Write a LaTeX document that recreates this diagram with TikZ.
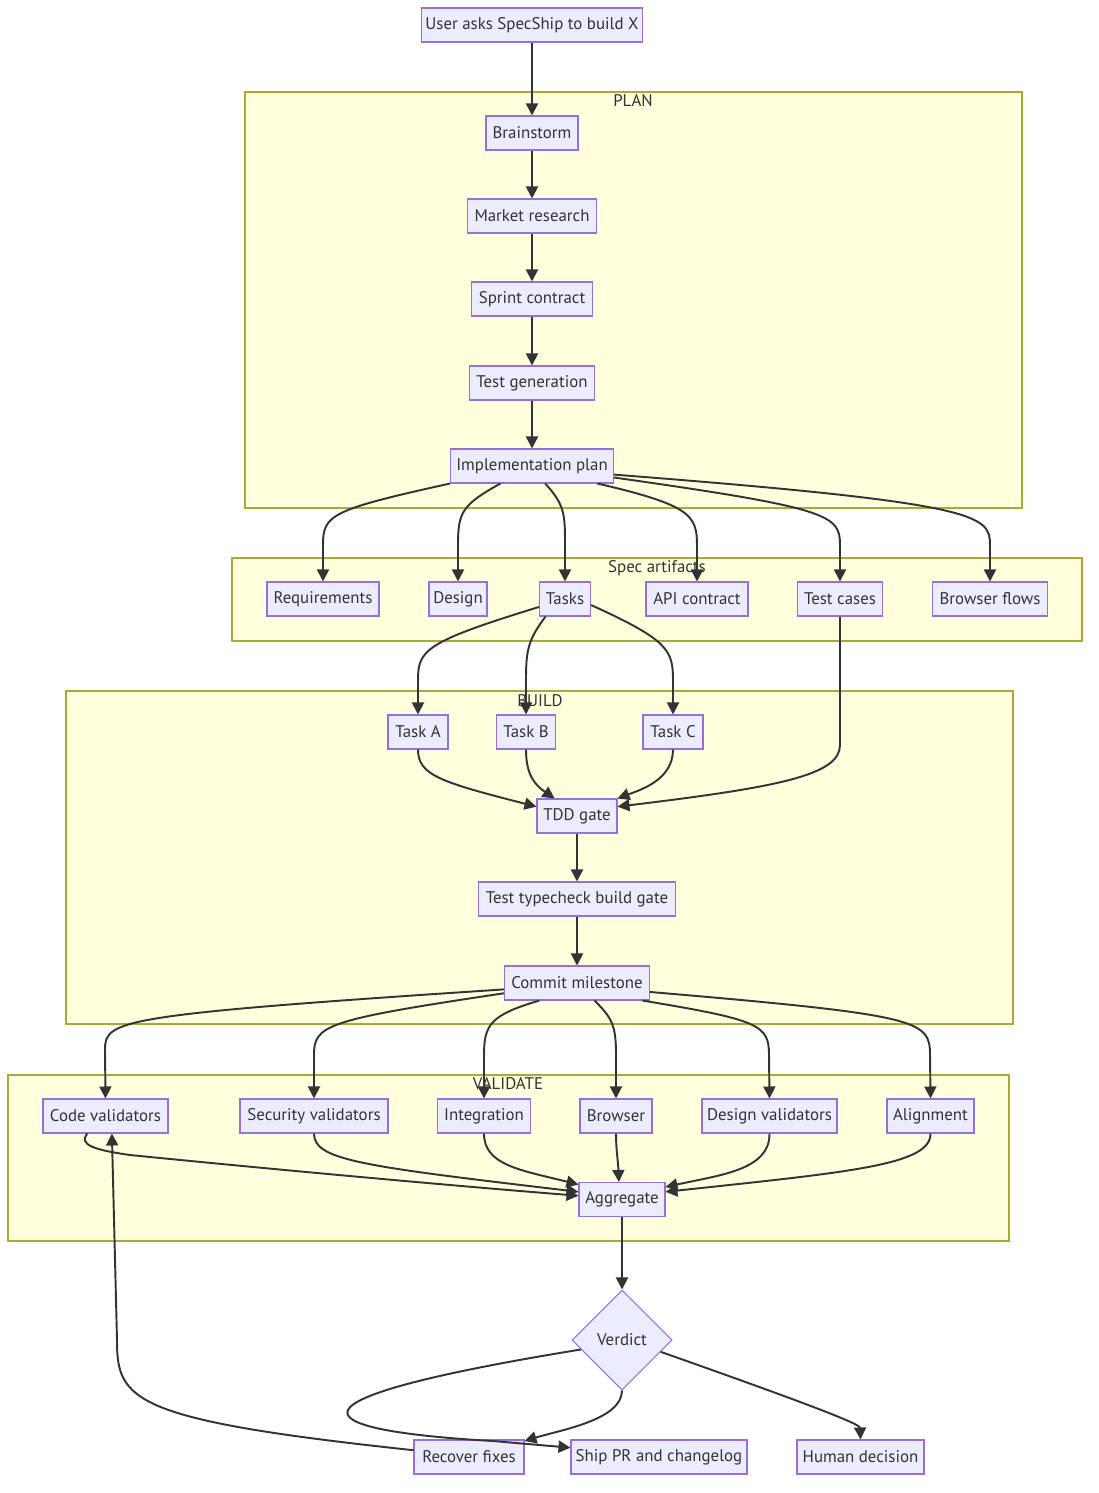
\documentclass[tikz,border=0pt]{standalone}
\usepackage{fontspec}
\setmainfont{PT Sans}
\usepackage{xcolor}
\usetikzlibrary{arrows.meta,shapes.geometric}
\definecolor{nodefill}{HTML}{ECECFF}
\definecolor{nodeline}{HTML}{9370DB}
\definecolor{groupfill}{HTML}{FFFFDE}
\definecolor{groupline}{HTML}{AAAA33}
\definecolor{ink}{HTML}{333333}

\begin{document}
\begin{tikzpicture}[
  x=0.02cm, y=-0.02cm,
  font=\fontsize{9.6}{11}\selectfont, text=ink,
  box/.style={draw=nodeline, fill=nodefill, line width=0.6pt, minimum height=0.68cm, inner sep=0pt},
  decision/.style={diamond, draw=nodeline, fill=nodefill, line width=0.6pt, minimum width=2cm, minimum height=2cm, inner sep=0pt},
  cluster/.style={draw=groupline, fill=groupfill, line width=0.6pt},
  grouplabel/.style={inner sep=0pt},
  arrow/.style={-{Triangle[length=2.4mm,width=2.4mm]}, draw=ink, line width=1.1pt}
]
\useasboundingbox (0,0) rectangle (1098,1493);

% groups
\draw[cluster] (245,92) rectangle (1022,508);
\draw[cluster] (232,558) rectangle (1082,641);
\draw[cluster] (66,691) rectangle (1013,1024);
\draw[cluster] (8,1075) rectangle (1009,1241);
\node[grouplabel] (planlbl) at (633,101) {PLAN};
\node[grouplabel] (speclbl) at (657,568) {Spec artifacts};
\node[grouplabel] (buildlbl) at (540,701) {BUILD};
\node[grouplabel] (validlbl) at (508,1084) {VALIDATE};

% plan
\node[box, minimum width=4.42cm] (user) at (532,25) {User asks SpecShip to build X};
\node[box, minimum width=1.84cm] (brainstorm) at (532,133) {Brainstorm};
\node[box, minimum width=2.58cm] (market) at (532,216) {Market research};
\node[box, minimum width=2.42cm] (sprint) at (532,299) {Sprint contract};
\node[box, minimum width=2.50cm] (testgen) at (532,383) {Test generation};
\node[box, minimum width=3.26cm] (impl) at (532,466) {Implementation plan};

% spec artifacts
\node[box, minimum width=2.24cm] (req) at (323,599) {Requirements};
\node[box, minimum width=1.16cm] (design) at (458,599) {Design};
\node[box, minimum width=1.02cm] (tasks) at (565,599) {Tasks};
\node[box, minimum width=2.04cm] (api) at (697,599) {API contract};
\node[box, minimum width=1.70cm] (tcase) at (840,599) {Test cases};
\node[box, minimum width=2.30cm] (bflows) at (990,599) {Browser flows};

% build
\node[box, minimum width=1.20cm] (taska) at (418,732) {Task A};
\node[box, minimum width=1.18cm] (taskb) at (526,732) {Task B};
\node[box, minimum width=1.20cm] (taskc) at (673,732) {Task C};
\node[box, minimum width=1.60cm] (tdd) at (577,816) {TDD gate};
\node[box, minimum width=3.94cm] (typecheck) at (577,899) {Test typecheck build gate};
\node[box, minimum width=2.90cm] (commit) at (577,983) {Commit milestone};

% validate
\node[box, minimum width=2.50cm] (code) at (105.5,1116) {Code validators};
\node[box, minimum width=2.96cm] (sec) at (314,1116) {Security validators};
\node[box, minimum width=1.86cm] (integ) at (484,1116) {Integration};
\node[box, minimum width=1.44cm] (browser) at (616,1116) {Browser};
\node[box, minimum width=2.70cm] (dv) at (769.5,1116) {Design validators};
\node[box, minimum width=1.74cm] (align) at (930.5,1116) {Alignment};
\node[box, minimum width=1.72cm] (agg) at (622,1199.5) {Aggregate};

% outcome
\node[decision] (verdict) at (622,1340) {Verdict};
\node[box, minimum width=2.20cm] (recover) at (469,1457) {Recover fixes};
\node[box, minimum width=3.52cm] (ship) at (659,1457) {Ship PR and changelog};
\node[box, minimum width=2.54cm] (human) at (860.5,1457) {Human decision};

% plan chain
\draw[arrow] (user) -- (brainstorm);
\draw[arrow] (brainstorm) -- (market);
\draw[arrow] (market) -- (sprint);
\draw[arrow] (sprint) -- (testgen);
\draw[arrow] (testgen) -- (impl);

% plan to artifacts
\draw[arrow] (impl.south west) .. controls (330,510) and (323,515) .. (323,545) -- (req.north);
\draw[arrow] (impl.209) .. controls (462,505) and (458,512) .. (458,545) -- (design.north);
\draw[arrow] (impl.307) .. controls (565,505) and (565,515) .. (565,545) -- (tasks.north);
\draw[arrow] (impl.345) .. controls (690,505) and (697,515) .. (697,545) -- (api.north);
\draw[arrow] (impl.352) .. controls (830,508) and (840,515) .. (840,545) -- (tcase.north);
\draw[arrow] (impl.354) .. controls (980,503) and (990,515) .. (990,545) -- (bflows.north);

% tasks into build
\draw[arrow] (tasks.197) .. controls (425,642) and (418,650) .. (418,680) -- (taska.north);
\draw[arrow] (tasks.222) .. controls (528,640) and (526,650) .. (526,680) -- (taskb.north);
\draw[arrow] (tasks.347) .. controls (668,640) and (673,650) .. (673,680) -- (taskc.north);
\draw[arrow] (taska.south) .. controls (418,775) and (440,782) .. (tdd.167);
\draw[arrow] (taskb.south) .. controls (526,775) and (535,785) .. (tdd.142);
\draw[arrow] (taskc.south) .. controls (673,780) and (640,790) .. (tdd.north east);
\draw[arrow] (tcase.south) -- (840,745) .. controls (840,775) and (780,787) .. (tdd.13);
\draw[arrow] (tdd) -- (typecheck);
\draw[arrow] (typecheck) -- (commit);

% build to validators
\draw[arrow] (commit.185) .. controls (115,1015) and (105,1020) .. (105,1050) -- (code.north);
\draw[arrow] (commit.188) .. controls (325,1020) and (314,1025) .. (314,1055) -- (sec.north);
\draw[arrow] (commit.205) .. controls (490,1015) and (484,1025) .. (484,1055) -- (integ.north);
\draw[arrow] (commit.315) .. controls (612,1018) and (616,1025) .. (616,1055) -- (browser.north);
\draw[arrow] (commit.345) .. controls (760,1020) and (769,1025) .. (769,1055) -- (dv.north);
\draw[arrow] (commit.353) .. controls (920,1015) and (930,1020) .. (930,1055) -- (align.north);

% validators to aggregate
\draw[arrow] (code.224) .. controls (78,1145) and (95,1150) .. (130,1155) .. controls (300,1172) and (480,1188) .. (agg.175);
\draw[arrow] (sec.south) .. controls (314,1160) and (360,1166) .. (agg.170);
\draw[arrow] (integ.south) .. controls (484,1165) and (520,1170) .. (agg.161);
\draw[arrow] (browser.south) .. controls (616,1150) and (618,1160) .. (agg.100);
\draw[arrow] (dv.south) .. controls (770,1170) and (720,1175) .. (agg.16);
\draw[arrow] (align.south) .. controls (931,1165) and (850,1172) .. (agg.10);
\draw[arrow] (agg) -- (verdict);

% verdict outcomes
\draw[arrow] (verdict.south) .. controls (622,1420) and (560,1430) .. (recover.16);
\draw[arrow] (verdict.193) .. controls (270,1400) and (300,1430) .. (493,1441) -- (ship.174);
\draw[arrow] (verdict.343) .. controls (840,1415) and (860,1425) .. (human.north);
\draw[arrow] (recover.173) .. controls (130,1420) and (117,1400) .. (117,1340) -- (code.290);
\end{tikzpicture}
\end{document}
